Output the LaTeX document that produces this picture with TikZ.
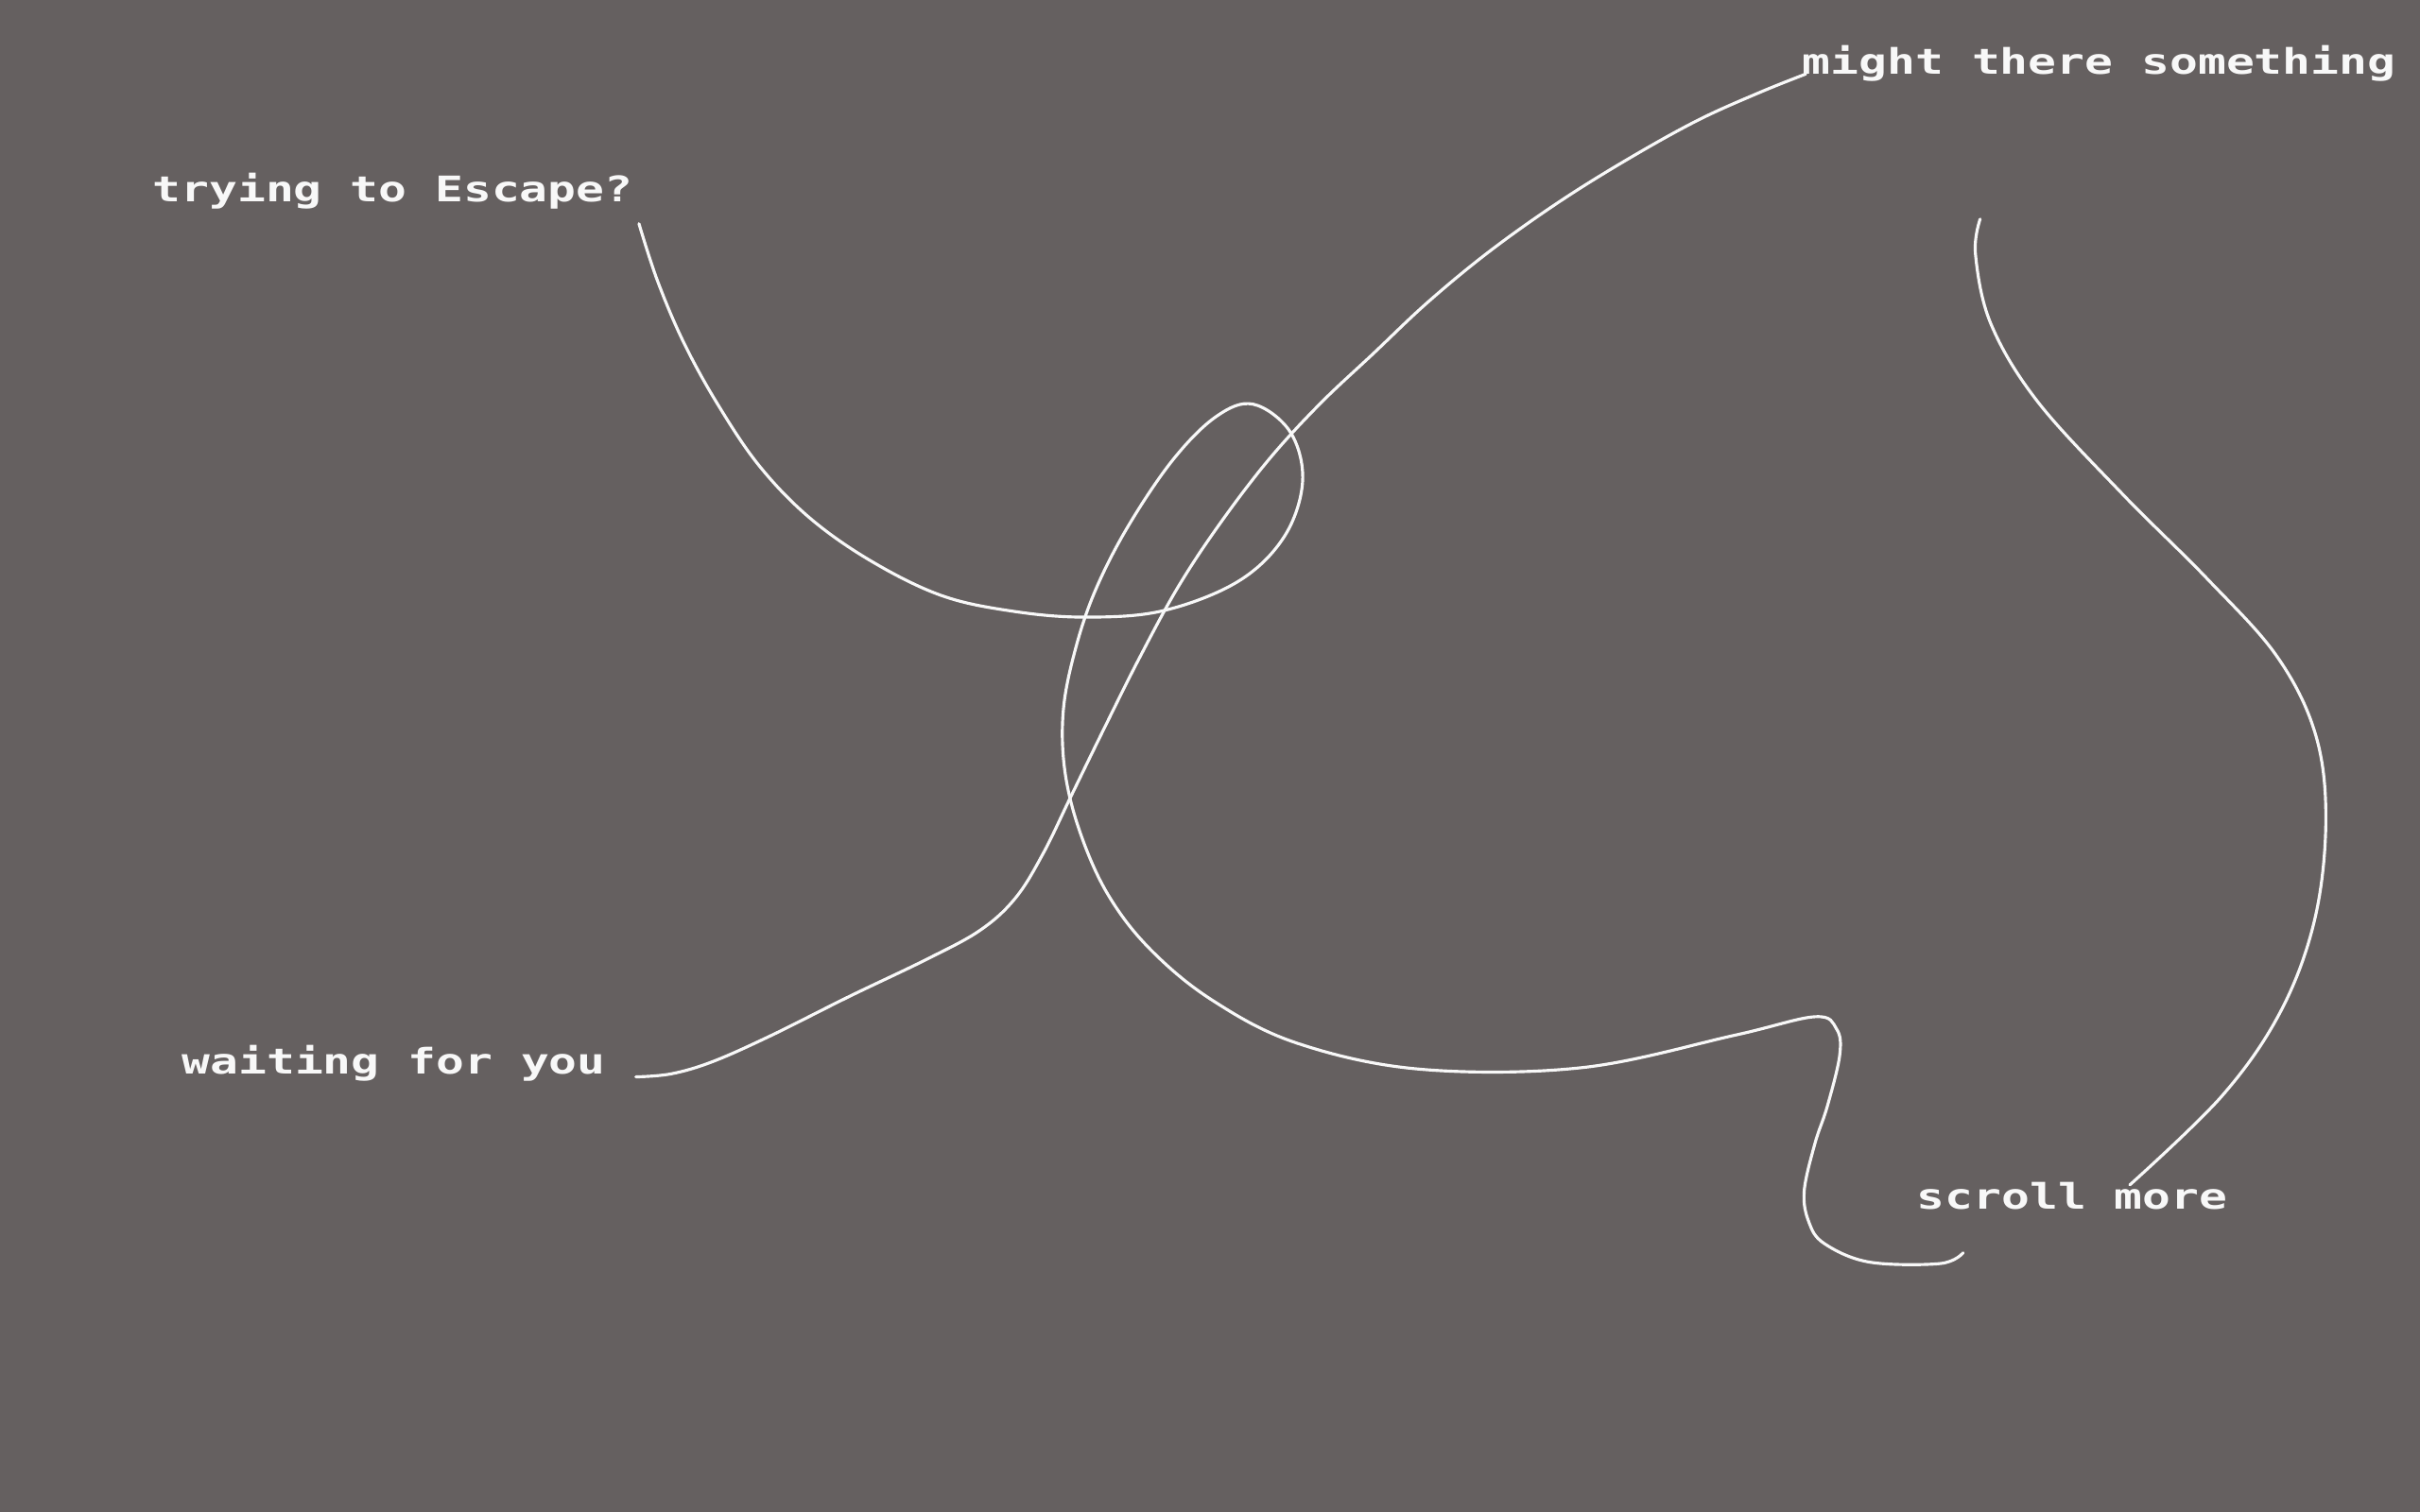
\documentclass[tikz,border=0pt]{standalone}
\usepackage{fontspec}
\newfontfamily\pixelfont{DejaVu Sans Mono}
\definecolor{wallgray}{RGB}{101,96,96}
\definecolor{chalk}{RGB}{248,248,248}
\tikzset{
  scrawl/.style={line width=0.55pt, chalk, line cap=round, line join=round},
  note/.style={inner sep=0pt, anchor=base west, text=chalk, xscale=1.33,
    font=\pixelfont\bfseries\fontsize{6.5}{7}\selectfont},
}

\begin{document}
\begin{tikzpicture}[x=0.01cm, y=-0.01cm]
\fill[wallgray] (0,0) rectangle (1568,980);
\useasboundingbox (0,0) rectangle (1568,980);

\node[note] (escape) at (98,131) {trying to Escape?};
\node[note] (something) at (1167,48) {might there something};
\node[note] (waiting) at (117,696) {waiting for you};
\node[note] (scroll) at (1241,784) {scroll more};

\coordinate (escape-tail) at (414,145);
\coordinate (scroll-hook) at (1272,812);
\coordinate (something-tail) at (1170,48);
\coordinate (waiting-tail) at (412,698);
\coordinate (right-tail) at (1283,142);
\coordinate (scroll-tail) at (1380,768);

\draw[scrawl] plot[smooth, tension=0.6] coordinates {
  (escape-tail) (426,182) (443,222) (465,262) (492,302) (525,336) (565,364)
  (610,386) (655,396) (702,400) (753,396) (802,377) (832,348) (844,312)
  (836,280) (812,262) (788,270) (760,298) (731,341) (710,382) (697,420)
  (689,460) (690,500) (700,540) (718,580) (745,615) (785,648) (840,676)
  (920,693) (1025,692) (1124,671) (1176,659) (1190,667) (1192,684)
  (1184,717) (1176,741) (1169,772) (1172,792) (1182,806) (1211,818)
  (1257,819) (scroll-hook)};
\draw[scrawl] plot[smooth, tension=0.6] coordinates {
  (something-tail) (1140,60) (1100,78) (1055,103) (1010,131) (965,163)
  (925,196) (890,229) (855,262) (822,298) (790,340) (763,381) (738,427)
  (715,473) (694,516) (676,553) (658,582) (635,603) (600,622) (550,646)
  (500,671) (462,688) (435,696) (waiting-tail)};
\draw[scrawl] plot[smooth, tension=0.6] coordinates {
  (right-tail) (1280,165) (1290,210) (1320,260) (1375,320) (1430,375)
  (1475,425) (1500,475) (1507,530) (1500,595) (1478,655) (1440,710)
  (scroll-tail)};
\end{tikzpicture}
\end{document}
